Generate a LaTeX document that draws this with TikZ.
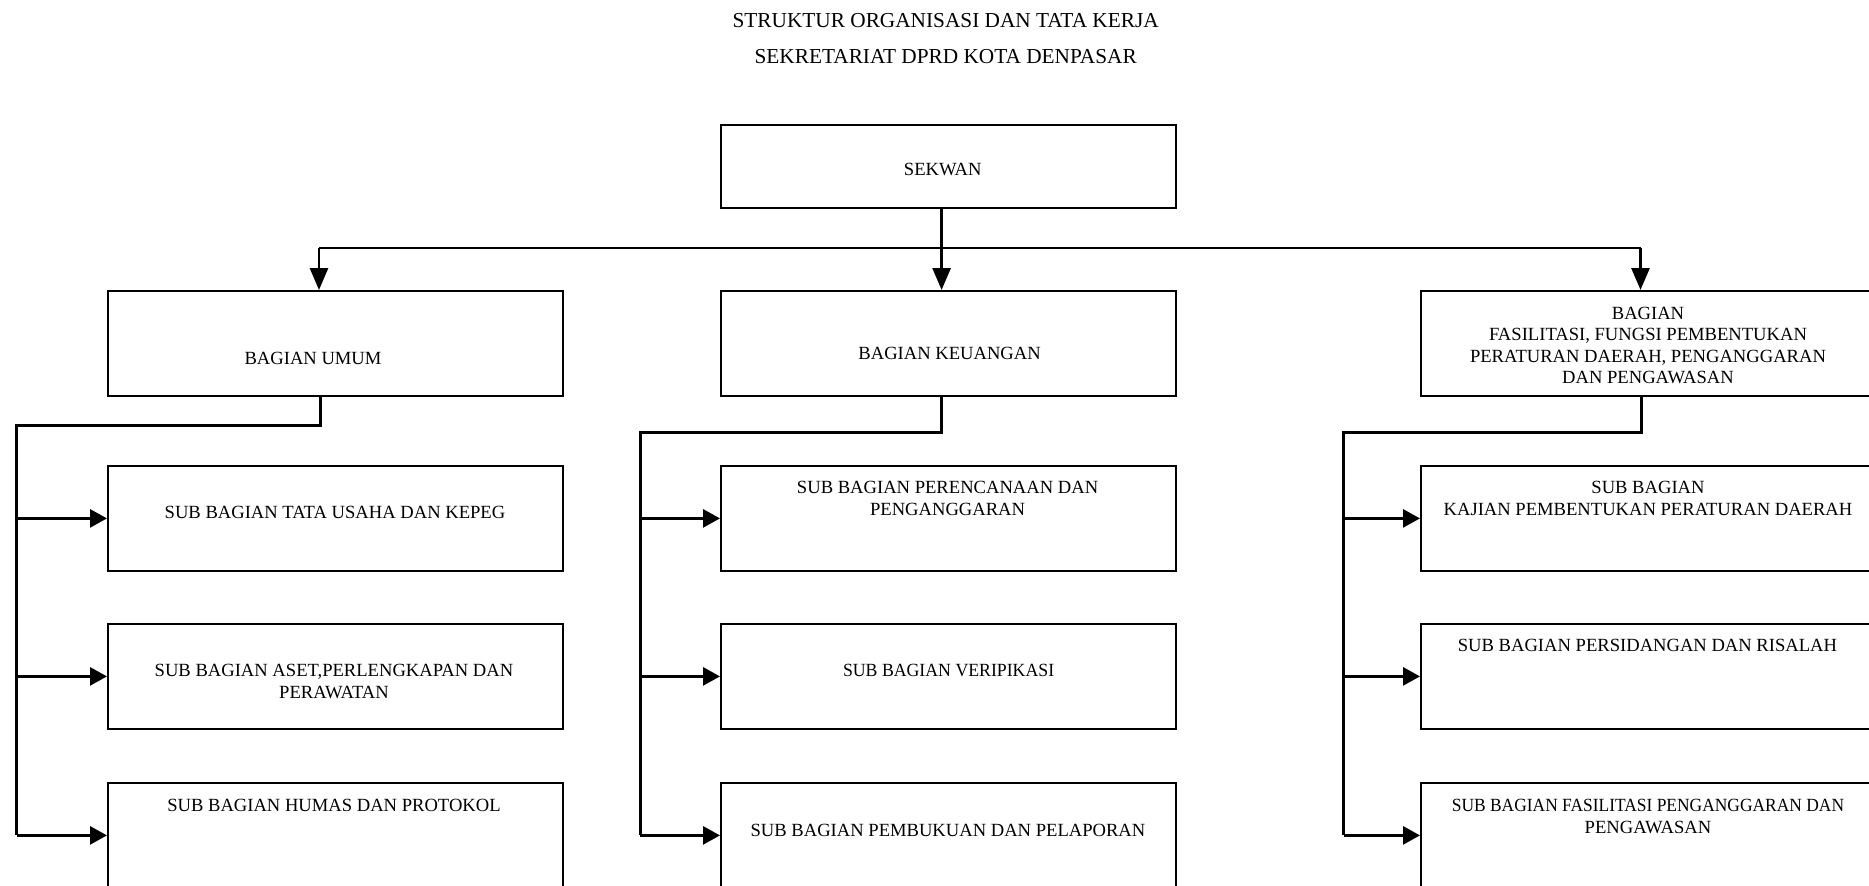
\documentclass[tikz,border=0pt]{standalone}
\usepackage{fontspec}
\setmainfont{Liberation Serif}
\usetikzlibrary{arrows.meta}
\newcommand\bxfont{\fontsize{18.6}{21.6}\selectfont}
\newcommand\ttlfont{\fontsize{21.3}{36.6}\selectfont}
\begin{document}
\begin{tikzpicture}[x=1pt,y=-1pt,
  box/.style={draw, line width=1.8pt, minimum width=455pt, minimum height=105pt, inner sep=0pt, anchor=north west},
  txt/.style={font=\bxfont, align=center, anchor=north, inner sep=0pt},
  conn/.style={line width=2.8pt},
  arr/.style={line width=2.8pt, -{Triangle[length=17pt,width=18pt]}},
  darr/.style={line width=2.8pt, -{Triangle[length=22pt,width=18pt]}}]
\useasboundingbox (0,0) rectangle (1869,886);
\clip (0,0) rectangle (1869,886);
% title
\node[font=\ttlfont, align=center, anchor=north, inner sep=0pt] (title) at (945.7,12.7)
  {STRUKTUR ORGANISASI DAN TATA KERJA\\SEKRETARIAT DPRD KOTA DENPASAR};
% boxes
\node[box, minimum height=83pt] (sekwan) at (720,124) {};
\node[box] (umum) at (107,290) {};
\node[box] (keu) at (720,290) {};
\node[box] (fas) at (1420,290) {};
\node[box] (ua) at (107,465) {};
\node[box] (ka) at (720,465) {};
\node[box] (fa) at (1420,465) {};
\node[box] (ub) at (107,623) {};
\node[box] (kb) at (720,623) {};
\node[box] (fb) at (1420,623) {};
\node[box] (uc) at (107,782) {};
\node[box] (kc) at (720,782) {};
\node[box] (fc) at (1420,782) {};
% texts
\node[txt] (tsekwan) at (942.7,163.2) {SEKWAN};
\node[txt] (tumum) at (313,351.9) {BAGIAN UMUM};
\node[txt] (tkeu) at (949.6,346.6) {BAGIAN KEUANGAN};
\node[txt] (tfas) at (1648,306.5) {BAGIAN\\FASILITASI, FUNGSI PEMBENTUKAN\\PERATURAN DAERAH, PENGANGGARAN\\DAN PENGAWASAN};
\node[txt] (tua) at (335,506) {SUB BAGIAN TATA USAHA DAN KEPEG};
\node[txt] (tka) at (947.6,480.9) {SUB BAGIAN PERENCANAAN DAN\\PENGANGGARAN};
\node[txt] (tfa) at (1648,480.9) {SUB BAGIAN\\KAJIAN PEMBENTUKAN PERATURAN DAERAH};
\node[txt] (tub) at (334,663.9) {SUB BAGIAN ASET,PERLENGKAPAN DAN\\PERAWATAN};
\node[txt] (tkb) at (948.6,663.9) {\scalebox{0.955}[1]{SUB BAGIAN VERIPIKASI}};
\node[txt] (tfb) at (1647.5,638.9) {SUB BAGIAN PERSIDANGAN DAN RISALAH};
\node[txt] (tuc) at (334,798.9) {SUB BAGIAN HUMAS DAN PROTOKOL};
\node[txt] (tkc) at (948,823.9) {SUB BAGIAN PEMBUKUAN DAN PELAPORAN};
\node[txt] (tfc) at (1648,798.9) {\scalebox{0.937}[1]{SUB BAGIAN FASILITASI PENGANGGARAN DAN}\\PENGAWASAN};
% top connectors
\coordinate (busL) at (319,248);
\coordinate (busR) at (1640.5,248);
\draw[conn] (busL) -- (busR);
\draw[darr] ([xshift=-6.8pt]sekwan.south) -- ([xshift=-6.8pt]keu.north);
\draw[darr] (busL) -- (busL |- umum.north);
\draw[darr] (busR) -- (busR |- fas.north);
% left column
\coordinate (uL) at (16.7,425.5);
\draw[conn] ([xshift=-15pt]umum.south) |- (uL) -- (uL |- uc.west);
\draw[arr] (uL |- ua.west) -- (ua.west);
\draw[arr] (uL |- ub.west) -- (ub.west);
\draw[arr] (uL |- uc.west) -- (uc.west);
% middle column
\coordinate (kL) at (640.3,432.7);
\draw[conn] ([xshift=-6.8pt]keu.south) |- (kL) -- (kL |- kc.west);
\draw[arr] (kL |- ka.west) -- (ka.west);
\draw[arr] (kL |- kb.west) -- (kb.west);
\draw[arr] (kL |- kc.west) -- (kc.west);
% right column
\coordinate (fL) at (1343.5,432.7);
\draw[conn] ([xshift=-7pt]fas.south) |- (fL) -- (fL |- fc.west);
\draw[arr] (fL |- fa.west) -- (fa.west);
\draw[arr] (fL |- fb.west) -- (fb.west);
\draw[arr] (fL |- fc.west) -- (fc.west);
\end{tikzpicture}
\end{document}
